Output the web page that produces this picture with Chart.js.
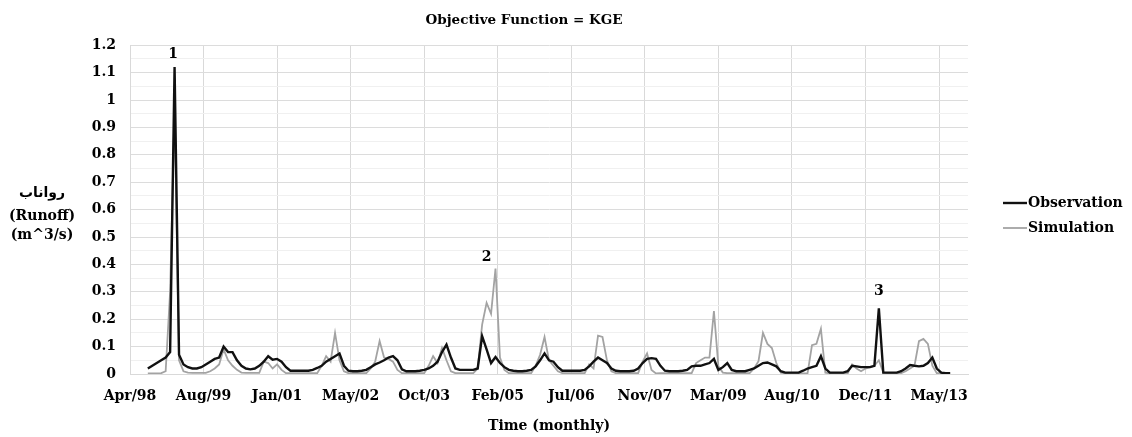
<!DOCTYPE html>
<html><head><meta charset="utf-8">
<script src="https://cdn.jsdelivr.net/npm/chart.js@4.4.1/dist/chart.umd.min.js"></script>
<style>html,body{margin:0;padding:0;background:#fff}</style>
</head><body>
<canvas id="c" width="1132" height="437"></canvas>
<script>
// months are counted from Apr/98 (= 0)
const FIRST_MONTH = 4;
const X_STEP = 16.5;
const xTickLabels = ['Apr/98','Aug/99','Jan/01','May/02','Oct/03','Feb/05','Jul/06','Nov/07','Mar/09','Aug/10','Dec/11','May/13'];

const observation = [
  0.02,0.03,0.04,0.05,0.06,0.08,1.12,0.07,0.035,0.025,
  0.02,0.02,0.025,0.035,0.045,0.055,0.06,0.10,0.08,0.08,
  0.05,0.03,0.02,0.017,0.02,0.03,0.045,0.065,0.052,0.055,
  0.045,0.025,0.012,0.012,0.012,0.012,0.012,0.015,0.022,0.03,
  0.045,0.055,0.065,0.075,0.03,0.012,0.01,0.01,0.012,0.015,
  0.025,0.035,0.042,0.05,0.06,0.065,0.05,0.017,0.01,0.01,
  0.01,0.012,0.015,0.02,0.03,0.045,0.08,0.107,0.06,0.02,
  0.015,0.015,0.015,0.015,0.02,0.138,0.09,0.04,0.062,0.04,
  0.025,0.015,0.012,0.01,0.01,0.012,0.015,0.028,0.05,0.075,
  0.05,0.045,0.025,0.012,0.012,0.012,0.012,0.012,0.015,0.028,
  0.045,0.06,0.05,0.04,0.02,0.012,0.01,0.01,0.01,0.012,
  0.02,0.04,0.055,0.058,0.055,0.03,0.012,0.01,0.01,0.01,
  0.012,0.015,0.028,0.03,0.03,0.035,0.04,0.055,0.015,0.025,
  0.04,0.015,0.01,0.01,0.01,0.015,0.02,0.03,0.04,0.042,
  0.035,0.028,0.01,0.005,0.005,0.005,0.005,0.012,0.02,0.025,
  0.03,0.065,0.02,0.005,0.005,0.005,0.005,0.01,0.03,0.028,
  0.025,0.025,0.025,0.03,0.24,0.005,0.005,0.005,0.005,0.01,
  0.02,0.033,0.03,0.028,0.03,0.04,0.06,0.02,0.005,0.003,
  0.003
];
const simulation = [
  0.002,0.002,0.002,0.003,0.01,0.3,0.97,0.05,0.01,0.005,
  0.004,0.004,0.004,0.004,0.01,0.02,0.035,0.09,0.05,0.03,
  0.015,0.005,0.004,0.004,0.004,0.004,0.045,0.04,0.02,0.035,
  0.015,0.003,0.003,0.003,0.003,0.003,0.003,0.003,0.003,0.03,
  0.065,0.045,0.15,0.05,0.01,0.003,0.003,0.003,0.003,0.003,
  0.02,0.045,0.12,0.06,0.055,0.045,0.015,0.003,0.003,0.003,
  0.003,0.003,0.003,0.03,0.065,0.04,0.095,0.05,0.01,0.003,
  0.003,0.003,0.003,0.003,0.02,0.18,0.26,0.22,0.385,0.06,
  0.015,0.003,0.003,0.003,0.003,0.003,0.003,0.03,0.07,0.135,
  0.05,0.03,0.01,0.003,0.003,0.003,0.003,0.003,0.003,0.035,
  0.02,0.14,0.135,0.05,0.01,0.003,0.003,0.003,0.003,0.003,
  0.003,0.045,0.075,0.015,0.002,0.003,0.003,0.003,0.003,0.003,
  0.003,0.003,0.003,0.04,0.05,0.06,0.06,0.23,0.028,0.005,
  0.003,0.003,0.003,0.003,0.003,0.003,0.02,0.047,0.15,0.11,
  0.095,0.04,0.005,0.002,0.002,0.002,0.002,0.002,0.002,0.105,
  0.11,0.165,0.005,0.002,0.002,0.002,0.002,0.002,0.035,0.02,
  0.01,0.02,0.025,0.03,0.05,0.005,0.003,0.003,0.003,0.003,
  0.01,0.02,0.03,0.12,0.128,0.11,0.03,0.003,0.003,0.003,
  0.003
];

const peakLabels = ['1','2','3'];
const peakMonths = [9.7, 80, 168];
const peakValues = [1.165, 0.425, 0.30];
const yTitleLines = ['رواناب','(Runoff)','(m^3/s)'];

const SERIF = '"DejaVu Serif", "DejaVu Sans", serif';
const OBS_COLOR = '#111111';
const SIM_COLOR = '#a3a3a3';

const toPoints = arr => arr.map((v, i) => ({x: FIRST_MONTH + i, y: v}));
const isMajorY = v => Math.abs(v * 10 - Math.round(v * 10)) < 1e-6;

Chart.defaults.font.family = SERIF;
Chart.defaults.color = '#000';

const extras = {
  id: 'extras',
  afterDatasetsDraw(chart) {
    const {ctx, scales: {x, y}, chartArea} = chart;
    ctx.save();
    ctx.fillStyle = '#000';
    ctx.font = 'bold 14px ' + SERIF;
    ctx.textAlign = 'center';
    ctx.textBaseline = 'middle';
    peakLabels.forEach((t, i) => {
      ctx.fillText(t, x.getPixelForValue(peakMonths[i]), y.getPixelForValue(peakValues[i]));
    });
    // y title (horizontal)
    const ty = [193, 216, 235];
    yTitleLines.forEach((t, i) => ctx.fillText(t, 42, ty[i]));
    // legend
    const lx = chartArea.right + 35;
    const ly = [203, 228];
    chart.data.datasets.forEach((ds, i) => {
      ctx.strokeStyle = ds.borderColor;
      ctx.lineWidth = ds.borderWidth;
      ctx.beginPath();
      ctx.moveTo(lx, ly[i]);
      ctx.lineTo(lx + 24, ly[i]);
      ctx.stroke();
      ctx.textAlign = 'left';
      ctx.fillText(ds.label, lx + 25, ly[i]);
    });
    ctx.restore();
  }
};

new Chart(document.getElementById('c'), {
  type: 'line',
  data: {
    datasets: [
      {label: 'Observation', data: toPoints(observation), borderColor: OBS_COLOR, borderWidth: 2.4, pointRadius: 0, tension: 0, fill: false},
      {label: 'Simulation', data: toPoints(simulation), borderColor: SIM_COLOR, borderWidth: 1.8, pointRadius: 0, tension: 0, fill: false}
    ]
  },
  options: {
    responsive: false,
    animation: false,
    devicePixelRatio: 1,
    layout: {padding: {left: 80, right: 164, top: 0, bottom: 0}},
    plugins: {
      legend: {display: false},
      tooltip: {enabled: false},
      title: {display: true, text: 'Objective Function = KGE', color: '#000',
        font: {size: 13.5, weight: 'bold', family: SERIF}, padding: {top: 12, bottom: 17}}
    },
    scales: {
      x: {
        type: 'linear', min: 0, max: 188,
        afterBuildTicks: s => { s.ticks = xTickLabels.map((_, k) => ({value: k * X_STEP})); },
        afterFit: s => { s.height = 63; },
        ticks: {callback: (v, i) => xTickLabels[i], autoSkip: false, maxRotation: 0, minRotation: 0,
          padding: 14, color: '#000', font: {size: 14, weight: 'bold'}},
        grid: {color: '#d9d9d9', drawTicks: false},
        border: {color: '#d9d9d9'},
        title: {display: true, text: 'Time (monthly)', color: '#000',
          font: {size: 14, weight: 'bold'}, padding: {top: 13, bottom: 2}}
      },
      y: {
        min: 0, max: 1.2,
        afterFit: s => { s.width = 50; },
        ticks: {stepSize: 0.05, autoSkip: false, padding: 14, color: '#000',
          font: {size: 14, weight: 'bold'},
          callback: v => isMajorY(v) ? String(+v.toFixed(1)) : ''},
        grid: {drawTicks: false, color: c => isMajorY(c.tick.value) ? '#dcdcdc' : '#f0f0f0'},
        border: {color: '#d9d9d9'}
      }
    }
  },
  plugins: [extras]
});
</script>
</body></html>
